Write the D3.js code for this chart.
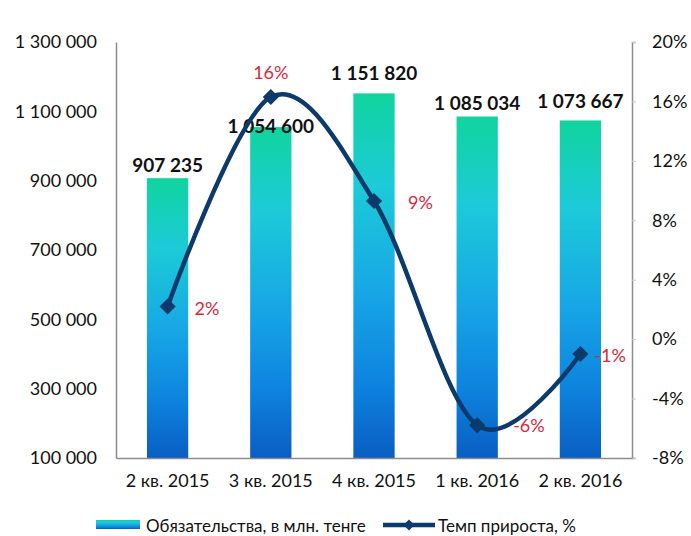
<!DOCTYPE html>
<html>
<head>
<meta charset="utf-8">
<script src="https://cdn.jsdelivr.net/npm/d3@7"></script>
<style>
  body { margin: 0; background: #fff; }
  svg { display: block; font-family: Lato, "Noto Sans", sans-serif; }
</style>
</head>
<body>
<div id="chart"></div>
<script>
// data
var categories = ["2 кв. 2015", "3 кв. 2015", "4 кв. 2015", "1 кв. 2016", "2 кв. 2016"];
var liabilities = [907235, 1054600, 1151820, 1085034, 1073667];
var growth = [2.2, 16.3, 9.3, -5.8, -1.0];
var growthLabels = ["2%", "16%", "9%", "-6%", "-1%"];
var leftTicks = [100000, 300000, 500000, 700000, 900000, 1100000, 1300000];
var rightTicks = [-8, -4, 0, 4, 8, 12, 16, 20];
var seriesNames = ["Обязательства, в млн. тенге", "Темп прироста, %"];

var width = 691, height = 536;
var margin = { left: 116, right: 632, top: 42, bottom: 458 };
var fontStack = "Lato, 'Noto Sans', sans-serif";

// label nudges (layout only)
var barLabelDy = [-6, 6, -13, -7, -12];
var pctLabelPos = [[27, 9, "start"], [0, -18, "middle"], [34, 8, "start"], [36, 7, "start"], [14, 8, "start"]];

var svg = d3.select("#chart").append("svg")
  .attr("width", width)
  .attr("height", height);

var defs = svg.append("defs");
var grad = defs.append("linearGradient")
  .attr("id", "barGrad")
  .attr("x1", 0).attr("y1", 0).attr("x2", 0).attr("y2", 1);
[[0, "#10d49e"], [0.25, "#1ccbd8"], [0.55, "#17a6e6"], [0.8, "#0d82de"], [1, "#0a5ec2"]].forEach(function (s) {
  grad.append("stop").attr("offset", s[0]).attr("stop-color", s[1]);
});

var x = d3.scaleBand()
  .domain(categories)
  .range([margin.left, margin.right])
  .paddingInner(0.6)
  .paddingOuter(0.3);

var yLeft = d3.scaleLinear()
  .domain([100000, 1300000])
  .range([margin.bottom, margin.top]);

var yRight = d3.scaleLinear()
  .domain([-8, 20])
  .range([margin.bottom, margin.top]);

var fmt = function (v) { return d3.format(",")(v).replace(/,/g, " "); };

// left axis
var leftAxis = svg.append("g")
  .attr("transform", "translate(" + margin.left + ",0)")
  .call(d3.axisLeft(yLeft).tickValues(leftTicks).tickSize(0).tickPadding(19).tickFormat(fmt));
leftAxis.select(".domain").attr("stroke", "#8c8c8c").attr("stroke-width", 1.5);
leftAxis.selectAll("text").attr("font-size", 18).attr("fill", "#111").attr("font-family", fontStack);

// right axis
var rightAxis = svg.append("g")
  .attr("transform", "translate(" + margin.right + ",0)")
  .call(d3.axisRight(yRight).tickValues(rightTicks).tickSize(4).tickPadding(16).tickFormat(function (d) { return d + "%"; }));
rightAxis.select(".domain").attr("stroke", "#8c8c8c").attr("stroke-width", 1.5);
rightAxis.selectAll(".tick line").attr("stroke", "#c8c8c8");
rightAxis.selectAll("text").attr("font-size", 18).attr("fill", "#111").attr("font-family", fontStack);

// bars
svg.append("g").selectAll("rect")
  .data(liabilities)
  .join("rect")
  .attr("x", function (d, i) { return x(categories[i]); })
  .attr("y", function (d) { return yLeft(d); })
  .attr("width", x.bandwidth())
  .attr("height", function (d) { return margin.bottom - yLeft(d); })
  .attr("fill", "url(#barGrad)");

// x axis
var bottomAxis = svg.append("g")
  .attr("transform", "translate(0," + margin.bottom + ")")
  .call(d3.axisBottom(x).tickSize(0).tickPadding(16));
bottomAxis.select(".domain").attr("stroke", "#8c8c8c").attr("stroke-width", 1.5);
bottomAxis.selectAll("text").attr("font-size", 18).attr("fill", "#111").attr("font-family", fontStack);

// bar value labels
svg.append("g").selectAll("text")
  .data(liabilities)
  .join("text")
  .attr("x", function (d, i) { return x(categories[i]) + x.bandwidth() / 2; })
  .attr("y", function (d, i) { return yLeft(d) + barLabelDy[i]; })
  .attr("text-anchor", "middle")
  .attr("font-size", 19)
  .attr("font-weight", "bold")
  .attr("fill", "#111")
  .text(fmt);

// growth line
var cx = function (d, i) { return x(categories[i]) + x.bandwidth() / 2; };
var line = d3.line()
  .x(cx)
  .y(function (d) { return yRight(d); })
  .curve(d3.curveCardinal.tension(0));

svg.append("path")
  .datum(growth)
  .attr("d", line)
  .attr("fill", "none")
  .attr("stroke", "#0b3a6b")
  .attr("stroke-width", 4.5);

var diamond = d3.symbol().type(d3.symbolSquare).size(130);
svg.append("g").selectAll("path")
  .data(growth)
  .join("path")
  .attr("d", diamond)
  .attr("transform", function (d, i) { return "translate(" + cx(d, i) + "," + yRight(d) + ") rotate(45)"; })
  .attr("fill", "#0b3a6b");

// growth labels
svg.append("g").selectAll("text")
  .data(growth)
  .join("text")
  .attr("x", function (d, i) { return cx(d, i) + pctLabelPos[i][0]; })
  .attr("y", function (d, i) { return yRight(d) + pctLabelPos[i][1]; })
  .attr("text-anchor", function (d, i) { return pctLabelPos[i][2]; })
  .attr("font-size", 18)
  .attr("fill", "#d22b3e")
  .text(function (d, i) { return growthLabels[i]; });

// legend
var legend = svg.append("g");
legend.append("rect")
  .attr("x", 96).attr("y", 520)
  .attr("width", 44).attr("height", 9)
  .attr("fill", "url(#barGrad)");
legend.append("text")
  .attr("x", 146).attr("y", 532)
  .attr("font-size", 17)
  .attr("fill", "#111")
  .text(seriesNames[0]);
legend.append("line")
  .attr("x1", 383).attr("x2", 435)
  .attr("y1", 525).attr("y2", 525)
  .attr("stroke", "#0b3a6b")
  .attr("stroke-width", 4.5);
legend.append("path")
  .attr("d", d3.symbol().type(d3.symbolSquare).size(60))
  .attr("transform", "translate(409,525) rotate(45)")
  .attr("fill", "#0b3a6b");
legend.append("text")
  .attr("x", 438).attr("y", 532)
  .attr("font-size", 17)
  .attr("fill", "#111")
  .text(seriesNames[1]);
</script>
</body>
</html>
